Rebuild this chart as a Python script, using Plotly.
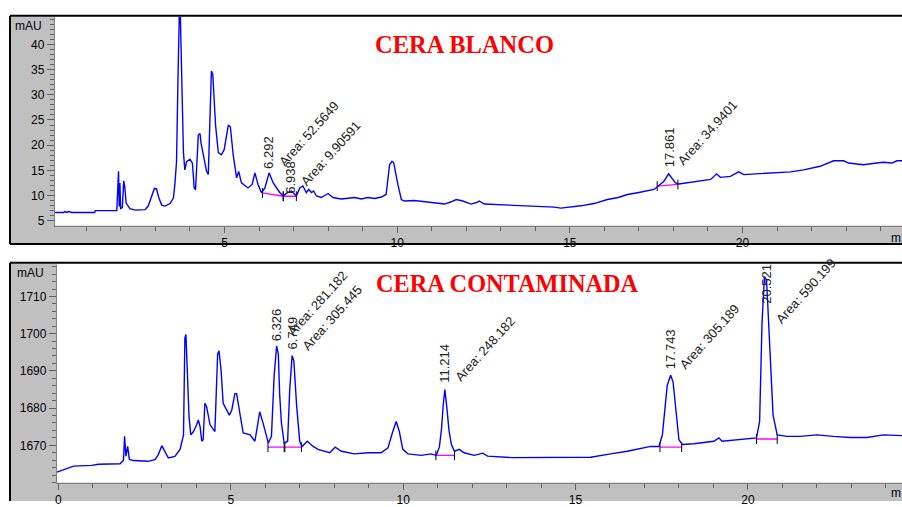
import plotly.graph_objects as go

W, H = 902, 507

# ---------------- data: CERA BLANCO (time min, mAU) ----------------
top_t = [0.09, 0.34, 0.38, 0.43, 0.48, 0.58, 1.24, 1.26, 1.88, 1.93, 1.95, 1.97, 1.99, 2.04, 2.08, 2.11,
         2.15, 2.26, 2.41, 2.70, 2.79, 2.89, 2.97, 3.03, 3.10, 3.18, 3.28, 3.42, 3.52, 3.56, 3.61, 3.65,
         3.69, 3.72, 3.76, 3.81, 3.85, 3.90, 4.00, 4.07, 4.12, 4.16, 4.24, 4.29, 4.32, 4.40, 4.48, 4.53,
         4.57, 4.62, 4.66, 4.69, 4.74, 4.82, 4.91, 4.99, 5.06, 5.11, 5.17, 5.25, 5.35, 5.41, 5.49, 5.68,
         5.80, 5.88, 5.97, 6.07, 6.17, 6.29, 6.41, 6.50, 6.60, 6.70, 6.82, 6.94, 7.00, 7.08, 7.18, 7.27,
         7.37, 7.44, 7.52, 7.58, 7.66, 7.80, 8.00, 8.14, 8.38, 8.60, 8.77, 8.96, 9.15, 9.35, 9.54, 9.68,
         9.78, 9.85, 9.90, 10.02, 10.12, 10.21, 10.50, 10.75, 10.98, 11.20, 11.37, 11.55, 11.71, 11.90,
         12.14, 12.30, 12.38, 12.52, 12.91, 13.39, 13.97, 14.36, 14.55, 14.74, 15.03, 15.32, 15.70, 16.09,
         16.40, 16.67, 17.00, 17.25, 17.44, 17.53, 17.73, 17.86, 18.06, 18.16, 18.50, 18.80, 19.08, 19.25,
         19.36, 19.65, 19.89, 20.04, 20.52, 21.00, 21.39, 21.77, 22.25, 22.64, 22.93, 23.07, 23.50, 23.89,
         24.08, 24.33, 24.47, 24.62]
top_v = [6.63, 6.63, 6.8, 6.63, 6.8, 6.63, 6.63, 7.0, 7.0, 14.8, 7.8, 12.5, 7.4, 7.6, 12.9, 11.8,
         8.5, 7.4, 7.1, 7.2, 7.9, 9.8, 11.4, 11.3, 9.5, 8.1, 7.9, 8.4, 9.5, 12.1, 16.7, 32.4,
         46.0, 46.0, 35.6, 18.6, 15.1, 16.7, 17.2, 16.4, 11.6, 11.1, 22.0, 22.3, 20.4, 17.4, 14.8, 14.2,
         24.6, 34.7, 34.1, 29.2, 24.0, 18.5, 18.1, 19.1, 22.0, 24.0, 23.6, 18.1, 13.5, 14.8, 12.5, 11.5,
         12.2, 14.5, 12.2, 10.55, 11.5, 14.5, 12.5, 11.5, 10.6, 9.9, 10.55, 10.9, 10.5, 9.9, 11.5, 11.9,
         10.55, 11.2, 10.6, 10.9, 9.9, 9.6, 10.4, 9.6, 9.3, 9.4, 9.6, 9.3, 9.6, 9.4, 9.7, 10.2,
         16.1, 16.8, 16.5, 12.2, 9.2, 8.9, 9.0, 8.8, 8.6, 8.5, 8.3, 8.7, 9.2, 8.9,
         8.3, 8.6, 8.9, 8.3, 8.2, 7.95, 7.95, 7.8, 7.7, 7.5, 7.7, 7.95, 8.4, 9.2,
         9.6, 10.2, 10.6, 10.9, 11.2, 11.7, 12.85, 14.3, 12.5, 12.3, 12.6, 12.9, 13.2, 14.3,
         13.6, 13.8, 14.7, 14.15, 14.3, 14.5, 14.7, 15.1, 15.8, 16.9, 16.9, 16.45, 16.1, 16.45,
         16.6, 16.45, 16.9, 16.9]

# ---------------- data: CERA CONTAMINADA ----------------
bot_t = [-0.04, 0.30, 0.44, 0.97, 1.16, 1.79, 1.89, 1.92, 1.96, 2.01, 2.06, 2.18, 2.61, 2.81, 2.90, 3.00,
         3.10, 3.19, 3.38, 3.53, 3.63, 3.67, 3.70, 3.74, 3.79, 3.84, 3.92, 4.01, 4.06, 4.11, 4.16, 4.20,
         4.25, 4.30, 4.40, 4.54, 4.62, 4.66, 4.72, 4.78, 4.88, 4.96, 5.03, 5.12, 5.17, 5.27, 5.36, 5.56,
         5.70, 5.78, 5.84, 5.94, 6.09, 6.18, 6.26, 6.33, 6.38, 6.42, 6.47, 6.55, 6.65, 6.71, 6.78, 6.83,
         6.91, 7.00, 7.07, 7.22, 7.39, 7.53, 7.72, 7.87, 8.03, 8.21, 8.59, 8.98, 9.36, 9.56, 9.70, 9.80,
         9.89, 9.99, 10.14, 10.52, 10.81, 10.96, 11.05, 11.11, 11.16, 11.21, 11.27, 11.33, 11.40, 11.49,
         11.63, 11.77, 12.06, 12.21, 12.31, 12.45, 13.13, 15.44, 15.73, 16.02, 16.50, 17.18, 17.42, 17.52,
         17.66, 17.76, 17.83, 17.93, 18.00, 18.10, 18.43, 19.01, 19.16, 19.25, 19.78, 20.07, 20.25, 20.34,
         20.41, 20.48, 20.54, 20.57, 20.65, 20.73, 20.85, 21.13, 21.52, 22.00, 22.48, 22.97, 23.45, 23.93,
         24.47]
bot_v = [1662.8, 1664.0, 1664.4, 1664.6, 1664.9, 1665.05, 1666.0, 1672.4, 1667.1, 1669.7, 1666.2, 1665.9,
         1665.7, 1666.2, 1667.5, 1669.9,
         1668.0, 1666.6, 1667.0, 1668.9, 1672.8, 1698.9, 1699.8, 1691.9, 1677.7, 1672.8, 1673.7, 1675.5,
         1676.8, 1675.0, 1671.1, 1671.5,
         1681.3, 1680.4, 1675.5, 1673.7, 1694.5, 1695.4, 1690.1, 1681.3, 1679.5, 1678.1, 1679.5, 1683.9,
         1683.9, 1677.7, 1673.3, 1672.8,
         1671.1, 1675.5, 1679.0, 1675.9, 1670.6, 1672.4, 1688.8, 1696.7, 1694.5, 1683.5, 1676.0, 1670.6,
         1671.1, 1684.8, 1694.1, 1692.7,
         1680.8, 1671.1, 1669.7, 1671.1, 1669.7, 1668.9, 1668.4, 1668.0, 1669.5, 1668.4, 1667.7, 1668.0,
         1668.0, 1669.3, 1673.7, 1676.4,
         1673.7, 1668.9, 1667.7, 1667.3, 1667.7, 1667.3, 1669.5, 1674.0, 1680.5, 1685.0, 1680.0, 1674.0,
         1670.2, 1668.4,
         1668.9, 1668.0, 1667.3, 1667.7, 1667.9, 1667.1, 1666.7, 1666.8, 1667.3, 1667.7, 1668.4, 1669.7,
         1669.7, 1672.8,
         1686.1, 1688.8, 1687.0, 1678.1, 1671.5, 1670.2, 1670.4, 1671.1, 1672.0, 1671.1, 1671.5, 1671.8,
         1672.0, 1676.4,
         1702.9, 1715.3, 1714.4, 1709.1, 1691.4, 1678.1, 1672.8, 1672.4, 1672.4, 1672.8, 1672.4, 1672.1,
         1672.1, 1672.8,
         1672.6]

# peak labels
top_rt = ["6.292", "6.938", "17.861"]
top_area = ["Area: 52.5649", "Area: 9.90591", "Area: 34.9401"]
bot_rt = ["6.326", "6.749", "11.214", "17.743", "20.521"]
bot_area = ["Area: 281.182", "Area: 305.445", "Area: 248.182", "Area: 305.189", "Area: 590.199"]

# label anchor points (min, mAU)
top_rt_x = [6.29, 6.92, 17.87]
top_rt_y = [15.0, 10.2, 15.4]
top_area_x = [6.45, 7.08, 18.0]
top_area_y = [15.0, 11.0, 15.1]
bot_rt_x = [6.32, 6.78, 11.18, 17.76, 20.53]
bot_rt_y = [1697.6, 1695.4, 1686.6, 1690.1, 1707.8]
bot_area_x = [6.52, 6.95, 11.39, 17.90, 20.70]
bot_area_y = [1698.1, 1694.5, 1686.1, 1689.2, 1701.6]

# integration baselines (start, end)
top_base_x = [[6.10, 6.70], [6.70, 7.08], [17.53, 18.13]]
top_base_y = [[10.5, 9.85], [9.85, 9.85], [11.87, 12.2]]
bot_base_x = [[6.08, 6.55], [6.57, 7.05], [10.95, 11.49], [17.45, 18.08], [20.25, 20.85]]
bot_base_y = [[1669.5, 1669.5], [1669.5, 1669.5], [1667.3, 1667.3], [1669.5, 1669.5], [1671.7, 1671.7]]

# ---------------- figure ----------------
fig = go.Figure()
MAG = "#ff00ff"
BLUE = "#0000ff"

for bx, by in zip(top_base_x, top_base_y):
    fig.add_trace(go.Scatter(x=bx, y=by, mode="lines+markers", xaxis="x", yaxis="y",
                             line=dict(color=MAG, width=1.3),
                             marker=dict(symbol="line-ns", size=7, line=dict(color="black", width=1)),
                             showlegend=False, hoverinfo="skip"))
for bx, by in zip(bot_base_x, bot_base_y):
    fig.add_trace(go.Scatter(x=bx, y=by, mode="lines+markers", xaxis="x2", yaxis="y2",
                             line=dict(color=MAG, width=1.3),
                             marker=dict(symbol="line-ns", size=7, line=dict(color="black", width=1)),
                             showlegend=False, hoverinfo="skip"))

fig.add_trace(go.Scatter(x=top_t, y=top_v, mode="lines", xaxis="x", yaxis="y",
                         line=dict(color=BLUE, width=1.4), showlegend=False))
fig.add_trace(go.Scatter(x=bot_t, y=bot_v, mode="lines", xaxis="x2", yaxis="y2",
                         line=dict(color=BLUE, width=1.4), showlegend=False))

FONT = "Arial, Liberation Sans, sans-serif"
TICKC = "#606060"
axis_common = dict(showline=True, linecolor="#808080", linewidth=1, ticks="outside",
                   tickcolor=TICKC, tickwidth=1, showgrid=False, zeroline=False,
                   tickfont=dict(family=FONT, size=12, color="black"), fixedrange=True)


def py(p):
    return 1 - p / H


fig.update_layout(
    width=W, height=H, margin=dict(l=0, r=0, t=0, b=0),
    paper_bgcolor="white", plot_bgcolor="white",
    xaxis=dict(domain=[53 / W, 1], range=[0.087, 24.62], anchor="y", tickmode="array",
               tickvals=[5, 10, 15, 20], ticklen=6,
               minor=dict(ticks="outside", tickmode="linear", tick0=0, dtick=1, ticklen=4, tickcolor=TICKC),
               **axis_common),
    yaxis=dict(domain=[py(228.3), py(17)], range=[4.02, 45.5], anchor="x", tickmode="array",
               tickvals=[5, 10, 15, 20, 25, 30, 35, 40], ticklen=7,
               minor=dict(ticks="outside", tickmode="linear", tick0=0, dtick=1, ticklen=4, tickcolor=TICKC),
               **axis_common),
    xaxis2=dict(domain=[55 / W, 1], range=[-0.043, 24.47], anchor="y2", tickmode="array",
                tickvals=[0, 5, 10, 15, 20], ticklen=6,
                minor=dict(ticks="outside", tickmode="linear", tick0=0, dtick=1, ticklen=4, tickcolor=TICKC),
                **axis_common),
    yaxis2=dict(domain=[py(488.3), py(268)], range=[1660.0, 1718.5], anchor="x2", tickmode="array",
                tickvals=[1670, 1680, 1690, 1700, 1710], ticklen=7,
                minor=dict(ticks="outside", tickmode="linear", tick0=1660, dtick=2, ticklen=4, tickcolor=TICKC),
                **axis_common),
)

GREY = "#c0c0c0"
shapes = [
    dict(type="rect", xref="paper", yref="paper", x0=8 / W, x1=53 / W, y0=py(247), y1=py(17),
         fillcolor=GREY, line=dict(width=0), layer="below"),
    dict(type="rect", xref="paper", yref="paper", x0=8 / W, x1=1, y0=py(247), y1=py(228.3),
         fillcolor=GREY, line=dict(width=0), layer="below"),
    dict(type="rect", xref="paper", yref="paper", x0=8 / W, x1=55 / W, y0=0, y1=py(267),
         fillcolor=GREY, line=dict(width=0), layer="below"),
    dict(type="rect", xref="paper", yref="paper", x0=8 / W, x1=1, y0=0, y1=py(488.3),
         fillcolor=GREY, line=dict(width=0), layer="below"),
    dict(type="line", xref="paper", yref="paper", x0=8 / W, x1=1, y0=py(16), y1=py(16),
         line=dict(color="black", width=2)),
    dict(type="line", xref="paper", yref="paper", x0=8 / W, x1=8 / W, y0=py(247), y1=py(16),
         line=dict(color="black", width=2)),
    dict(type="line", xref="paper", yref="paper", x0=8 / W, x1=1, y0=py(247), y1=py(247),
         line=dict(color="black", width=2)),
    dict(type="line", xref="paper", yref="paper", x0=8 / W, x1=1, y0=py(266), y1=py(266),
         line=dict(color="black", width=2)),
    dict(type="line", xref="paper", yref="paper", x0=8 / W, x1=8 / W, y0=0, y1=py(266),
         line=dict(color="black", width=2)),
]
fig.update_layout(shapes=shapes)

ann = []
LBL = dict(family=FONT, size=13, color="#202020")
for txt, x, y in zip(top_rt, top_rt_x, top_rt_y):
    ann.append(dict(text=txt, x=x, y=y, xref="x", yref="y", showarrow=False, textangle=-90,
                    xanchor="center", yanchor="bottom", font=LBL, borderpad=0))
for txt, x, y in zip(top_area, top_area_x, top_area_y):
    ann.append(dict(text=txt, x=x, y=y, xref="x", yref="y", showarrow=False, textangle=-48,
                    xanchor="left", yanchor="bottom", font=LBL, borderpad=0))
for txt, x, y in zip(bot_rt, bot_rt_x, bot_rt_y):
    ann.append(dict(text=txt, x=x, y=y, xref="x2", yref="y2", showarrow=False, textangle=-90,
                    xanchor="center", yanchor="bottom", font=LBL, borderpad=0))
for txt, x, y in zip(bot_area, bot_area_x, bot_area_y):
    ann.append(dict(text=txt, x=x, y=y, xref="x2", yref="y2", showarrow=False, textangle=-48,
                    xanchor="left", yanchor="bottom", font=LBL, borderpad=0))

SERIF = "Liberation Serif, Times New Roman, serif"
ann.append(dict(text="<b>CERA BLANCO</b>", x=372 / W, y=py(45), xref="paper", yref="paper",
                showarrow=False, xanchor="left", yanchor="middle",
                font=dict(family=SERIF, size=24.5, color="#ff0000")))
ann.append(dict(text="<b>CERA CONTAMINADA</b>", x=373 / W, y=py(287), xref="paper", yref="paper",
                showarrow=False, xanchor="left", yanchor="middle",
                font=dict(family=SERIF, size=24.3, color="#ff0000")))

AX = dict(family=FONT, size=12, color="black")
ann.append(dict(text="mAU", x=27 / W, y=py(26), xref="paper", yref="paper", showarrow=False,
                xanchor="center", yanchor="middle", font=AX))
ann.append(dict(text="mAU", x=29 / W, y=py(276), xref="paper", yref="paper", showarrow=False,
                xanchor="center", yanchor="middle", font=AX))
ann.append(dict(text="m", x=1, y=py(241), xref="paper", yref="paper", showarrow=False,
                xanchor="right", yanchor="middle", font=AX, borderpad=0))
ann.append(dict(text="m", x=1, y=py(499), xref="paper", yref="paper", showarrow=False,
                xanchor="right", yanchor="middle", font=AX, borderpad=0))

fig.update_layout(annotations=ann)

fig.write_html("out.html")
